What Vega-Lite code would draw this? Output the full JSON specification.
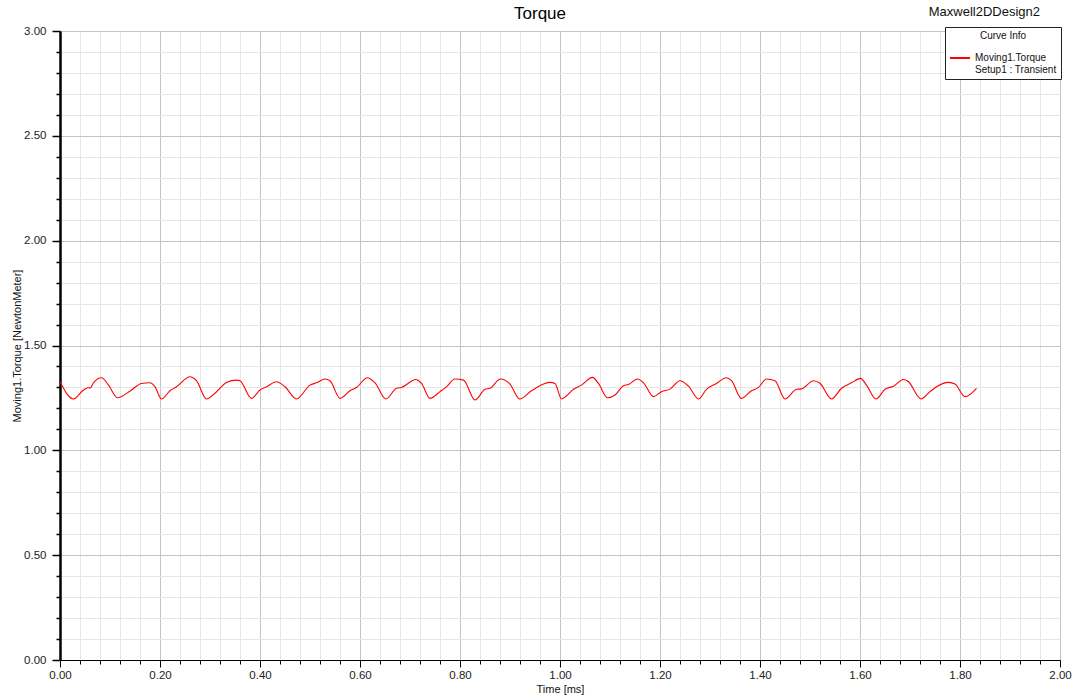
{
  "$schema": "https://vega.github.io/schema/vega-lite/v6.json",
  "width": 1000,
  "height": 629,
  "autosize": {"type": "none"},
  "padding": {"left": 60, "top": 31, "right": 20, "bottom": 40},
  "background": "white",
  "config": {
    "font": "Liberation Sans",
    "view": {"stroke": "black", "strokeWidth": 1}
  },
  "title": {
    "text": "Torque",
    "fontSize": 17,
    "fontWeight": "normal",
    "color": "black",
    "font": "Liberation Sans",
    "anchor": "middle",
    "frame": "group",
    "baseline": "alphabetic",
    "dx": -20,
    "offset": -30
  },
  "datasets": {
    "torque": [
      {"t": 0.000, "v": 1.327, "curve": "Moving1.Torque"},
      {"t": 0.027, "v": 1.245, "curve": "Moving1.Torque"},
      {"t": 0.047, "v": 1.288, "curve": "Moving1.Torque"},
      {"t": 0.057, "v": 1.300, "curve": "Moving1.Torque"},
      {"t": 0.060, "v": 1.296, "curve": "Moving1.Torque"},
      {"t": 0.067, "v": 1.322, "curve": "Moving1.Torque"},
      {"t": 0.083, "v": 1.346, "curve": "Moving1.Torque"},
      {"t": 0.097, "v": 1.311, "curve": "Moving1.Torque"},
      {"t": 0.115, "v": 1.251, "curve": "Moving1.Torque"},
      {"t": 0.143, "v": 1.288, "curve": "Moving1.Torque"},
      {"t": 0.163, "v": 1.319, "curve": "Moving1.Torque"},
      {"t": 0.180, "v": 1.322, "curve": "Moving1.Torque"},
      {"t": 0.190, "v": 1.303, "curve": "Moving1.Torque"},
      {"t": 0.203, "v": 1.245, "curve": "Moving1.Torque"},
      {"t": 0.220, "v": 1.284, "curve": "Moving1.Torque"},
      {"t": 0.233, "v": 1.303, "curve": "Moving1.Torque"},
      {"t": 0.260, "v": 1.351, "curve": "Moving1.Torque"},
      {"t": 0.273, "v": 1.332, "curve": "Moving1.Torque"},
      {"t": 0.293, "v": 1.245, "curve": "Moving1.Torque"},
      {"t": 0.310, "v": 1.272, "curve": "Moving1.Torque"},
      {"t": 0.333, "v": 1.324, "curve": "Moving1.Torque"},
      {"t": 0.353, "v": 1.335, "curve": "Moving1.Torque"},
      {"t": 0.360, "v": 1.332, "curve": "Moving1.Torque"},
      {"t": 0.383, "v": 1.248, "curve": "Moving1.Torque"},
      {"t": 0.400, "v": 1.288, "curve": "Moving1.Torque"},
      {"t": 0.413, "v": 1.303, "curve": "Moving1.Torque"},
      {"t": 0.433, "v": 1.327, "curve": "Moving1.Torque"},
      {"t": 0.450, "v": 1.303, "curve": "Moving1.Torque"},
      {"t": 0.473, "v": 1.245, "curve": "Moving1.Torque"},
      {"t": 0.500, "v": 1.311, "curve": "Moving1.Torque"},
      {"t": 0.513, "v": 1.322, "curve": "Moving1.Torque"},
      {"t": 0.530, "v": 1.340, "curve": "Moving1.Torque"},
      {"t": 0.540, "v": 1.332, "curve": "Moving1.Torque"},
      {"t": 0.560, "v": 1.248, "curve": "Moving1.Torque"},
      {"t": 0.580, "v": 1.284, "curve": "Moving1.Torque"},
      {"t": 0.593, "v": 1.300, "curve": "Moving1.Torque"},
      {"t": 0.615, "v": 1.346, "curve": "Moving1.Torque"},
      {"t": 0.630, "v": 1.322, "curve": "Moving1.Torque"},
      {"t": 0.652, "v": 1.245, "curve": "Moving1.Torque"},
      {"t": 0.673, "v": 1.296, "curve": "Moving1.Torque"},
      {"t": 0.683, "v": 1.300, "curve": "Moving1.Torque"},
      {"t": 0.712, "v": 1.338, "curve": "Moving1.Torque"},
      {"t": 0.723, "v": 1.319, "curve": "Moving1.Torque"},
      {"t": 0.740, "v": 1.248, "curve": "Moving1.Torque"},
      {"t": 0.760, "v": 1.280, "curve": "Moving1.Torque"},
      {"t": 0.773, "v": 1.303, "curve": "Moving1.Torque"},
      {"t": 0.790, "v": 1.340, "curve": "Moving1.Torque"},
      {"t": 0.807, "v": 1.335, "curve": "Moving1.Torque"},
      {"t": 0.830, "v": 1.240, "curve": "Moving1.Torque"},
      {"t": 0.850, "v": 1.291, "curve": "Moving1.Torque"},
      {"t": 0.860, "v": 1.296, "curve": "Moving1.Torque"},
      {"t": 0.881, "v": 1.340, "curve": "Moving1.Torque"},
      {"t": 0.900, "v": 1.316, "curve": "Moving1.Torque"},
      {"t": 0.919, "v": 1.245, "curve": "Moving1.Torque"},
      {"t": 0.943, "v": 1.284, "curve": "Moving1.Torque"},
      {"t": 0.967, "v": 1.316, "curve": "Moving1.Torque"},
      {"t": 0.980, "v": 1.324, "curve": "Moving1.Torque"},
      {"t": 0.990, "v": 1.319, "curve": "Moving1.Torque"},
      {"t": 1.003, "v": 1.245, "curve": "Moving1.Torque"},
      {"t": 1.027, "v": 1.291, "curve": "Moving1.Torque"},
      {"t": 1.043, "v": 1.311, "curve": "Moving1.Torque"},
      {"t": 1.065, "v": 1.348, "curve": "Moving1.Torque"},
      {"t": 1.077, "v": 1.319, "curve": "Moving1.Torque"},
      {"t": 1.095, "v": 1.251, "curve": "Moving1.Torque"},
      {"t": 1.110, "v": 1.264, "curve": "Moving1.Torque"},
      {"t": 1.127, "v": 1.308, "curve": "Moving1.Torque"},
      {"t": 1.137, "v": 1.314, "curve": "Moving1.Torque"},
      {"t": 1.155, "v": 1.340, "curve": "Moving1.Torque"},
      {"t": 1.167, "v": 1.322, "curve": "Moving1.Torque"},
      {"t": 1.187, "v": 1.256, "curve": "Moving1.Torque"},
      {"t": 1.203, "v": 1.280, "curve": "Moving1.Torque"},
      {"t": 1.220, "v": 1.292, "curve": "Moving1.Torque"},
      {"t": 1.240, "v": 1.332, "curve": "Moving1.Torque"},
      {"t": 1.257, "v": 1.306, "curve": "Moving1.Torque"},
      {"t": 1.277, "v": 1.245, "curve": "Moving1.Torque"},
      {"t": 1.293, "v": 1.291, "curve": "Moving1.Torque"},
      {"t": 1.313, "v": 1.319, "curve": "Moving1.Torque"},
      {"t": 1.333, "v": 1.346, "curve": "Moving1.Torque"},
      {"t": 1.343, "v": 1.332, "curve": "Moving1.Torque"},
      {"t": 1.363, "v": 1.248, "curve": "Moving1.Torque"},
      {"t": 1.383, "v": 1.284, "curve": "Moving1.Torque"},
      {"t": 1.397, "v": 1.300, "curve": "Moving1.Torque"},
      {"t": 1.413, "v": 1.340, "curve": "Moving1.Torque"},
      {"t": 1.430, "v": 1.332, "curve": "Moving1.Torque"},
      {"t": 1.450, "v": 1.245, "curve": "Moving1.Torque"},
      {"t": 1.473, "v": 1.291, "curve": "Moving1.Torque"},
      {"t": 1.483, "v": 1.293, "curve": "Moving1.Torque"},
      {"t": 1.507, "v": 1.332, "curve": "Moving1.Torque"},
      {"t": 1.520, "v": 1.320, "curve": "Moving1.Torque"},
      {"t": 1.543, "v": 1.245, "curve": "Moving1.Torque"},
      {"t": 1.563, "v": 1.296, "curve": "Moving1.Torque"},
      {"t": 1.583, "v": 1.322, "curve": "Moving1.Torque"},
      {"t": 1.601, "v": 1.343, "curve": "Moving1.Torque"},
      {"t": 1.613, "v": 1.311, "curve": "Moving1.Torque"},
      {"t": 1.632, "v": 1.245, "curve": "Moving1.Torque"},
      {"t": 1.650, "v": 1.291, "curve": "Moving1.Torque"},
      {"t": 1.667, "v": 1.306, "curve": "Moving1.Torque"},
      {"t": 1.687, "v": 1.338, "curve": "Moving1.Torque"},
      {"t": 1.697, "v": 1.327, "curve": "Moving1.Torque"},
      {"t": 1.722, "v": 1.245, "curve": "Moving1.Torque"},
      {"t": 1.740, "v": 1.280, "curve": "Moving1.Torque"},
      {"t": 1.753, "v": 1.303, "curve": "Moving1.Torque"},
      {"t": 1.777, "v": 1.324, "curve": "Moving1.Torque"},
      {"t": 1.790, "v": 1.316, "curve": "Moving1.Torque"},
      {"t": 1.810, "v": 1.256, "curve": "Moving1.Torque"},
      {"t": 1.833, "v": 1.296, "curve": "Moving1.Torque"}
    ],
    "design": [{"name": "Maxwell2DDesign2"}]
  },
  "layer": [
    {
      "data": {"name": "torque"},
      "mark": {"type": "line", "strokeWidth": 1.1, "interpolate": "monotone"},
      "encoding": {
        "x": {
          "field": "t",
          "type": "quantitative",
          "scale": {"domain": [0, 2], "nice": false, "zero": false},
          "axis": {
            "title": "Time [ms]",
            "titleFontSize": 11,
            "titleFontWeight": "normal",
            "titleColor": "#111",
            "titlePadding": 3,
            "tickCount": 500,
            "values": [0,0.04,0.08,0.12,0.16,0.2,0.24,0.28,0.32,0.36,0.4,0.44,0.48,0.52,0.56,0.6,0.64,0.68,0.72,0.76,0.8,0.84,0.88,0.92,0.96,1,1.04,1.08,1.12,1.16,1.2,1.24,1.28,1.32,1.36,1.4,1.44,1.48,1.52,1.56,1.6,1.64,1.68,1.72,1.76,1.8,1.84,1.88,1.92,1.96,2],
            "labelExpr": "abs(datum.value*5 - round(datum.value*5)) < 0.001 ? format(datum.value, '.2f') : ''",
            "labelOverlap": false,
            "labelFlush": false,
            "labelBound": false,
            "labelFontSize": 11.5,
            "labelColor": "#222",
            "labelPadding": 2,
            "domainColor": "black",
            "domainWidth": 1,
            "tickColor": "black",
            "tickWidth": 1,
            "tickSize": {"condition": {"test": "abs(datum.value*5 - round(datum.value*5)) < 0.001", "value": 7}, "value": 4},
            "grid": true,
            "gridColor": {"condition": {"test": "abs(datum.value*5 - round(datum.value*5)) < 0.001", "value": "#c4c4c4"}, "value": "#e6e6e6"},
            "gridWidth": 1
          }
        },
        "y": {
          "field": "v",
          "type": "quantitative",
          "scale": {"domain": [0, 3], "nice": false},
          "axis": {
            "title": "Moving1.Torque [NewtonMeter]",
            "titleFontSize": 11,
            "titleFontWeight": "normal",
            "titleColor": "#111",
            "titlePadding": 1,
            "tickCount": 500,
            "values": [0,0.1,0.2,0.3,0.4,0.5,0.6,0.7,0.8,0.9,1,1.1,1.2,1.3,1.4,1.5,1.6,1.7,1.8,1.9,2,2.1,2.2,2.3,2.4,2.5,2.6,2.7,2.8,2.9,3],
            "labelExpr": "abs(datum.value*2 - round(datum.value*2)) < 0.001 ? format(datum.value, '.2f') : ''",
            "labelOverlap": false,
            "labelFlush": false,
            "labelBound": false,
            "labelFontSize": 11.5,
            "labelColor": "#222",
            "labelPadding": 6,
            "domainColor": "black",
            "domainWidth": 2.5,
            "tickColor": "black",
            "tickWidth": 1.5,
            "tickSize": {"condition": {"test": "abs(datum.value*2 - round(datum.value*2)) < 0.001", "value": 8}, "value": 4},
            "grid": true,
            "gridColor": {"condition": {"test": "abs(datum.value*2 - round(datum.value*2)) < 0.001", "value": "#c4c4c4"}, "value": "#e6e6e6"},
            "gridWidth": 1
          }
        },
        "color": {
          "field": "curve",
          "type": "nominal",
          "scale": {"domain": ["Moving1.Torque"], "range": ["#ff0000"]},
          "legend": {
            "title": "Curve Info",
            "orient": "none",
            "legendX": 885,
            "legendY": -4,
            "titleAnchor": "middle",
            "titleFontSize": 10,
            "titleFontWeight": "normal",
            "titleColor": "#111",
            "titlePadding": 6,
            "labelFontSize": 10,
            "labelColor": "#111",
            "labelExpr": "['Moving1.Torque', 'Setup1 : Transient']",
            "symbolType": "stroke",
            "symbolStrokeWidth": 2,
            "symbolSize": 400,
            "fillColor": "white",
            "strokeColor": "#222",
            "padding": 4,
            "offset": 0
          }
        }
      }
    },
    {
      "data": {"name": "design"},
      "mark": {"type": "text", "align": "right", "baseline": "middle", "fontSize": 13, "color": "#111", "dx": -20, "dy": -19},
      "encoding": {
        "x": {"datum": 2},
        "y": {"datum": 3},
        "text": {"field": "name", "type": "nominal"}
      }
    }
  ]
}
